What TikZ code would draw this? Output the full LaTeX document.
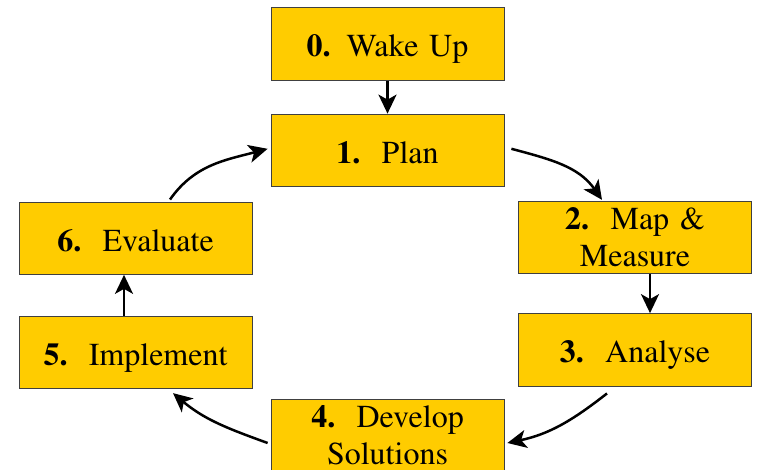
\documentclass[tikz,border=0pt]{standalone}
\usepackage[T1]{fontenc}
\renewcommand{\rmdefault}{ptm}
\usepackage{xcolor}
\usepackage{tikz}
\usetikzlibrary{positioning,calc}
\usetikzlibrary{arrows.meta}
\definecolor{stagefill}{HTML}{FFCC00}
\definecolor{stageline}{HTML}{404040}

\begin{document}
\begin{tikzpicture}[x=1pt,y=1pt,
    stage/.style={rectangle,draw=stageline,line width=0.8pt,fill=stagefill,minimum width=233pt,minimum height=72.5pt,inner sep=0pt,text width=233pt,align=center,font=\fontsize{32}{37}\selectfont},
    oneline/.style={text height=26pt,text depth=0pt},
    flow/.style={draw,line width=2.5pt,-{Stealth[length=19pt,width=18pt,inset=5pt]}}]
    \useasboundingbox (0,0) rectangle (757,470);
    % the stages
    \node[stage,oneline] (s0) at (387.5,426) {\textbf{0.} Wake Up};
    \node[stage,oneline,below=33pt of s0] (s1) {\textbf{1.}\ \ Plan};
    \node[stage] (s2) at (635,232.5) {\textbf{2.}\ \ Map \&\\Measure};
    \node[stage,oneline,below=39pt of s2] (s3) {\textbf{3.}\ \ Analyse};
    \node[stage] (s4) at (387.5,34.5) {\textbf{4.}\ \ Develop\\Solutions};
    \node[stage,oneline] (s5) at (135.5,117.5) {\textbf{5.}\ \ Implement};
    \node[stage,oneline,above=41pt of s5] (s6) {\textbf{6.}\ \ Evaluate};
    % the cycle
    \draw[flow] (s0) -- (s1);
    \draw[flow] ([xshift=7pt,yshift=1.5pt]s1.east) to[out=-15,in=125] ([xshift=-33pt,yshift=1pt]s2.north);
    \draw[flow] ([xshift=15pt]s2.south) -- ([xshift=15pt]s3.north);
    \draw[flow] ([xshift=-28pt,yshift=-7pt]s3.south) to[out=-142,in=12] ([xshift=3pt,yshift=-7.5pt]s4.east);
    \draw[flow] ([xshift=-3pt,yshift=-7.5pt]s4.west) to[out=160,in=-40] ([xshift=37.5pt,yshift=-4pt]s5.south);
    \draw[flow] ([xshift=-11.5pt]s5.north) -- ([xshift=-11.5pt]s6.south);
    \draw[flow] ([xshift=34.5pt,yshift=2pt]s6.north) to[out=55,in=195] ([xshift=-3pt,yshift=1.5pt]s1.west);
\end{tikzpicture}
\end{document}
